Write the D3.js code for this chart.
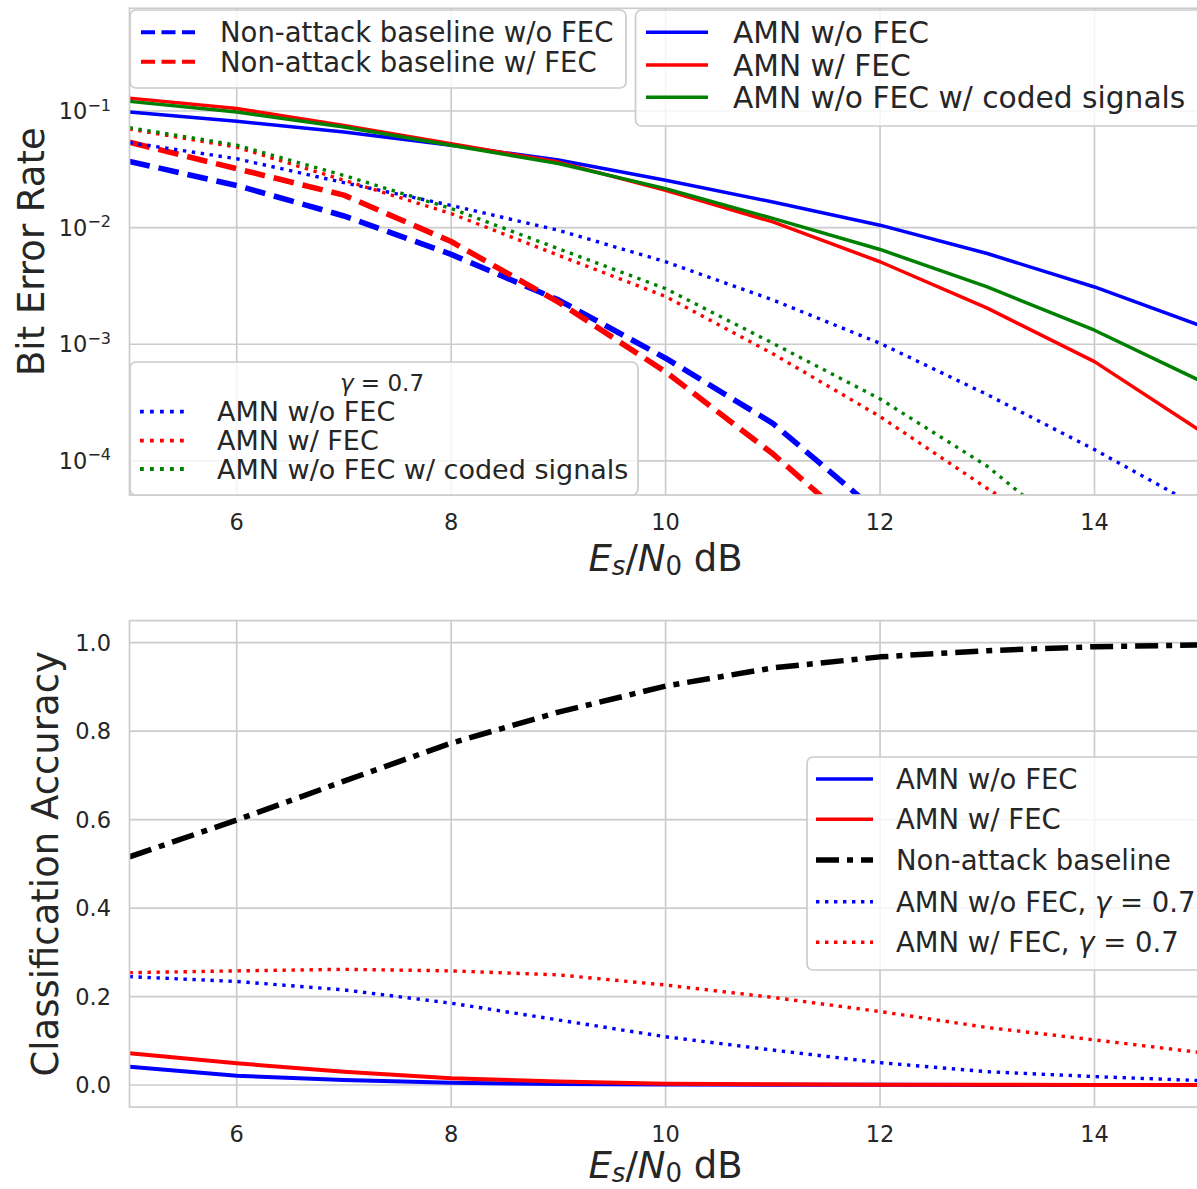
<!DOCTYPE html>
<html>
<head>
<meta charset="utf-8">
<script src="https://cdn.jsdelivr.net/npm/d3@7"></script>
<style>
body { margin: 0; background: #fff; }
text { font-family: "DejaVu Sans", sans-serif; fill: #262626; }
</style>
</head>
<body>
<script>
//data
var snr = [5, 6, 7, 8, 9, 10, 11, 12, 13, 14, 15];

//top panel: bit error rate
var berAmnNoFec = [0.098, 0.0817, 0.066, 0.0508, 0.038, 0.0255, 0.0166, 0.0105, 0.006, 0.0031, 0.00143];
var berAmnFec = [0.129, 0.105, 0.075, 0.0525, 0.0365, 0.0209, 0.0112, 0.0051, 0.00204, 0.00071, 0.000178];
var berAmnCoded = [0.121, 0.098, 0.073, 0.0508, 0.0355, 0.0216, 0.012, 0.0065, 0.0031, 0.00132, 0.00048];
var berBaseNoFec = [0.037, 0.023, 0.0126, 0.0059, 0.0024, 0.00076, 0.00021, 0.000035, null, null, null];
var berBaseFec = [0.054, 0.032, 0.019, 0.0076, 0.0023, 0.00058, 0.000115, 0.000018, null, null, null];
var berGammaNoFec = [0.0536, 0.039, 0.0243, 0.0155, 0.0095, 0.0051, 0.0024, 0.00102, 0.00037, 0.000125, 0.000039];
var berGammaFec = [0.070, 0.049, 0.0255, 0.0132, 0.0058, 0.00257, 0.00083, 0.00024, 0.000058, 0.000015, null];
var berGammaCoded = [0.072, 0.051, 0.028, 0.0146, 0.0066, 0.0030, 0.00102, 0.00034, 0.00009, 0.000016, null];

//bottom panel: classification accuracy
var accBaseline = [0.516, 0.599, 0.687, 0.773, 0.843, 0.902, 0.943, 0.968, 0.982, 0.991, 0.995];
var accAmnNoFec = [0.0414, 0.021, 0.0113, 0.005, 0.002, 0.001, 0.0005, 0.0003, 0.0002, 0.0001, 0.0001];
var accAmnFec = [0.0717, 0.049, 0.030, 0.015, 0.008, 0.003, 0.0015, 0.0008, 0.0004, 0.0002, 0.0001];
var accGammaNoFec = [0.245, 0.234, 0.215, 0.185, 0.147, 0.109, 0.079, 0.0505, 0.030, 0.019, 0.0098];
var accGammaFec = [0.254, 0.258, 0.2615, 0.258, 0.249, 0.226, 0.198, 0.166, 0.130, 0.102, 0.073];

//tick labels
var xTicks = [6, 8, 10, 12, 14];
var berTicks = [1e-4, 1e-3, 1e-2, 1e-1];
var accTicks = [0, 0.2, 0.4, 0.6, 0.8, 1.0];

//styles
var blue = "#0000ff", red = "#ff0000", green = "#008000", black = "#000000";
var gridColour = "#cccccc";
var solid = null, dashed = "20.7 9", dotted = "3.4 5.6", dashdot = "23 8 6 8";
var tickSize = 22.5, labelSize = 37;

var width = 1197, height = 1189;

var svg = d3.select("body").append("svg")
    .attr("width", width)
    .attr("height", height)
    .style("display", "block");
svg.append("rect").attr("width", width).attr("height", height).attr("fill", "#fff");

//scales
var x = d3.scaleLinear().domain([5, 15]).range([129.5, 1201.7]);
var yTop = d3.scaleLog().domain([5.1e-5, 0.76]).range([495, 8.3]);
var yBot = d3.scaleLinear().domain([-0.05, 1.05]).range([1107.1, 620.6]);

//adds text with the gamma drawn in italics
function addLabel(sel, str) {
    var parts = str.split("γ");
    parts.forEach(function (p, i) {
        if (i > 0) sel.append("tspan").attr("font-style", "italic").text("γ");
        if (p.length) sel.append("tspan").text(p);
    });
}

//x axis label E_s/N_0 dB
function addXLabel(g, cx, baseY) {
    var t = g.append("text").attr("x", cx).attr("y", baseY)
        .attr("text-anchor", "middle").attr("font-size", labelSize);
    t.append("tspan").attr("font-style", "italic").text("E");
    t.append("tspan").attr("font-style", "italic").attr("font-size", 26).attr("dy", 4).text("s");
    t.append("tspan").attr("dy", -4).text("/");
    t.append("tspan").attr("font-style", "italic").text("N");
    t.append("tspan").attr("font-size", 26).attr("dy", 4).text("0");
    t.append("tspan").attr("dy", -4).text(" dB");
}

//draws one panel: grid, lines, spines
function drawPanel(id, y, yTicks, series) {
    var x0 = x.range()[0], x1 = x.range()[1];
    var y0 = y.range()[1], y1 = y.range()[0];
    var g = svg.append("g");

    g.append("clipPath").attr("id", id)
        .append("rect").attr("x", x0).attr("y", y0).attr("width", x1 - x0).attr("height", y1 - y0);

    //grid
    g.selectAll(".vgrid").data(xTicks).enter().append("line")
        .attr("x1", function (d) { return x(d) }).attr("x2", function (d) { return x(d) })
        .attr("y1", y0).attr("y2", y1)
        .attr("stroke", gridColour).attr("stroke-width", 1.7);
    g.selectAll(".hgrid").data(yTicks).enter().append("line")
        .attr("y1", function (d) { return y(d) }).attr("y2", function (d) { return y(d) })
        .attr("x1", x0).attr("x2", x1)
        .attr("stroke", gridColour).attr("stroke-width", 1.7);

    //lines
    var line = d3.line()
        .defined(function (d) { return d[1] !== null })
        .x(function (d) { return x(d[0]) })
        .y(function (d) { return y(d[1]) });

    var lg = g.append("g").attr("clip-path", "url(#" + id + ")");
    series.forEach(function (s) {
        lg.append("path")
            .attr("d", line(snr.map(function (v, i) { return [v, s.values[i]] })))
            .attr("fill", "none")
            .attr("stroke", s.colour)
            .attr("stroke-width", s.width)
            .attr("stroke-dasharray", s.dash)
            .attr("stroke-linejoin", "round");
    });

    //spines
    g.append("rect").attr("x", x0).attr("y", y0).attr("width", x1 - x0).attr("height", y1 - y0)
        .attr("fill", "none").attr("stroke", gridColour).attr("stroke-width", 1.7);

    //x tick labels
    g.selectAll(".xt").data(xTicks).enter().append("text")
        .attr("x", function (d) { return x(d) })
        .attr("y", y1 + 26.5).attr("dy", "0.36em")
        .attr("text-anchor", "middle").attr("font-size", tickSize)
        .text(function (d) { return d });
    return g;
}

//top panel
var top_panel = drawPanel("clipTop", yTop, berTicks, [
    { values: berAmnNoFec, colour: blue, dash: solid, width: 3.5 },
    { values: berAmnFec, colour: red, dash: solid, width: 3.5 },
    { values: berAmnCoded, colour: green, dash: solid, width: 3.5 },
    { values: berBaseNoFec, colour: blue, dash: dashed, width: 5.6 },
    { values: berBaseFec, colour: red, dash: dashed, width: 5.6 },
    { values: berGammaNoFec, colour: blue, dash: dotted, width: 3.4 },
    { values: berGammaFec, colour: red, dash: dotted, width: 3.4 },
    { values: berGammaCoded, colour: green, dash: dotted, width: 3.4 }
]);

//log tick labels 10^n
berTicks.forEach(function (d) {
    var t = top_panel.append("text")
        .attr("x", 111).attr("y", yTop(d)).attr("dy", "0.36em")
        .attr("text-anchor", "end").attr("font-size", tickSize);
    t.append("tspan").text("10");
    t.append("tspan").attr("font-size", 16).attr("dy", -8.5).text("−" + Math.round(-Math.log10(d)));
});

top_panel.append("text")
    .attr("transform", "translate(44," + ((yTop.range()[0] + yTop.range()[1]) / 2) + ") rotate(-90)")
    .attr("text-anchor", "middle").attr("font-size", labelSize)
    .text("Bit Error Rate");
addXLabel(top_panel, (x.range()[0] + x.range()[1]) / 2, 571);

//bottom panel
var bottom_panel = drawPanel("clipBot", yBot, accTicks, [
    { values: accAmnNoFec, colour: blue, dash: solid, width: 4 },
    { values: accAmnFec, colour: red, dash: solid, width: 4 },
    { values: accBaseline, colour: black, dash: dashdot, width: 5.5 },
    { values: accGammaNoFec, colour: blue, dash: dotted, width: 3.4 },
    { values: accGammaFec, colour: red, dash: dotted, width: 3.4 }
]);

bottom_panel.selectAll(".yt").data(accTicks).enter().append("text")
    .attr("x", 111).attr("y", function (d) { return yBot(d) }).attr("dy", "0.36em")
    .attr("text-anchor", "end").attr("font-size", tickSize)
    .text(function (d) { return d3.format(".1f")(d) });

bottom_panel.append("text")
    .attr("transform", "translate(58," + ((yBot.range()[0] + yBot.range()[1]) / 2) + ") rotate(-90)")
    .attr("text-anchor", "middle").attr("font-size", labelSize)
    .text("Classification Accuracy");
addXLabel(bottom_panel, (x.range()[0] + x.range()[1]) / 2, 1178);

//legends
function drawLegend(box, rows, fontSize, hx0, hx1, tx, title) {
    var g = svg.append("g");
    g.append("rect").attr("x", box.x).attr("y", box.y).attr("width", box.w).attr("height", box.h)
        .attr("rx", 6).attr("ry", 6)
        .attr("fill", "#fff").attr("fill-opacity", 0.8)
        .attr("stroke", gridColour).attr("stroke-width", 1.7);
    if (title) {
        var tt = g.append("text").attr("x", title.x).attr("y", title.y).attr("dy", "0.36em")
            .attr("text-anchor", "middle").attr("font-size", title.size);
        addLabel(tt, title.text);
    }
    rows.forEach(function (r) {
        g.append("line").attr("x1", hx0).attr("x2", hx1).attr("y1", r.y).attr("y2", r.y)
            .attr("stroke", r.colour).attr("stroke-width", r.width).attr("stroke-dasharray", r.dash);
        var t = g.append("text").attr("x", tx).attr("y", r.y).attr("dy", "0.36em")
            .attr("font-size", fontSize);
        addLabel(t, r.label);
    });
}

drawLegend({ x: 130, y: 10, w: 496, h: 78 }, [
    { label: "Non-attack baseline w/o FEC", colour: blue, dash: "14 6.5", width: 4, y: 32.3 },
    { label: "Non-attack baseline w/ FEC", colour: red, dash: "14 6.5", width: 4, y: 61.7 }
], 27.5, 141, 195, 220);

drawLegend({ x: 635.5, y: 10, w: 620, h: 116 }, [
    { label: "AMN w/o FEC", colour: blue, dash: solid, width: 3.5, y: 32.3 },
    { label: "AMN w/ FEC", colour: red, dash: solid, width: 3.5, y: 65 },
    { label: "AMN w/o FEC w/ coded signals", colour: green, dash: solid, width: 3.5, y: 97.3 }
], 29.7, 646, 708, 733);

drawLegend({ x: 130, y: 362, w: 508, h: 133 }, [
    { label: "AMN w/o FEC", colour: blue, dash: "3.8 6.2", width: 3.8, y: 411.7 },
    { label: "AMN w/ FEC", colour: red, dash: "3.8 6.2", width: 3.8, y: 440.7 },
    { label: "AMN w/o FEC w/ coded signals", colour: green, dash: "3.8 6.2", width: 3.8, y: 469 }
], 27, 140, 190, 217, { text: "γ = 0.7", x: 382, y: 383, size: 23 });

drawLegend({ x: 807, y: 757, w: 420, h: 213 }, [
    { label: "AMN w/o FEC", colour: blue, dash: solid, width: 3.5, y: 779 },
    { label: "AMN w/ FEC", colour: red, dash: solid, width: 3.5, y: 819.3 },
    { label: "Non-attack baseline", colour: black, dash: dashdot, width: 5.5, y: 860 },
    { label: "AMN w/o FEC, γ = 0.7", colour: blue, dash: "3.4 5.6", width: 3.4, y: 901.7 },
    { label: "AMN w/ FEC, γ = 0.7", colour: red, dash: "3.4 5.6", width: 3.4, y: 942.3 }
], 27.5, 816, 873, 896);
</script>
</body>
</html>
